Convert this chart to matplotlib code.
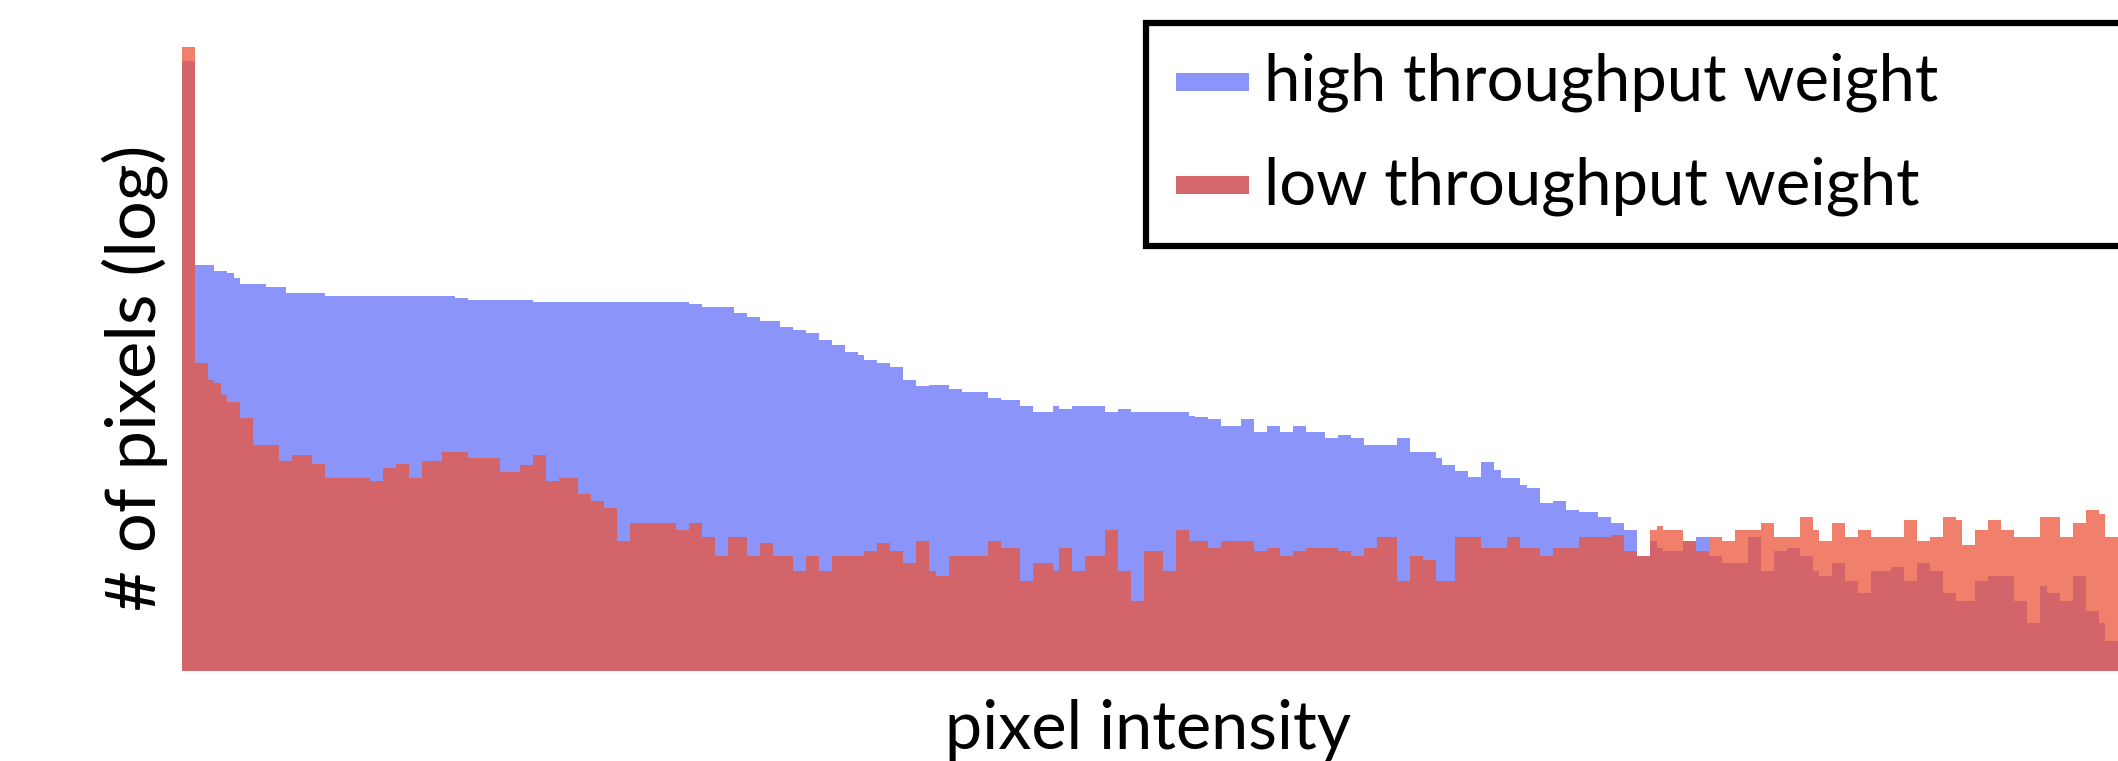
import numpy as np
import matplotlib
matplotlib.use('Agg')
import matplotlib.pyplot as plt
from matplotlib.patches import Patch, Rectangle
from matplotlib.legend_handler import HandlerPatch

# pixel counts per intensity bin (log axis)
high_weight = [
    1260000, 1260000, 11480, 11480, 11480, 10000, 10000, 9550, 8510, 7410,
    7410, 7410, 7410, 6920, 6920, 6920, 6030, 6030, 6030, 6030,
    6030, 6030, 5620, 5620, 5620, 5620, 5620, 5620, 5620, 5620,
    5620, 5620, 5620, 5620, 5620, 5620, 5620, 5620, 5620, 5620,
    5620, 5620, 5370, 5370, 5130, 5130, 5130, 5130, 5130, 5130,
    5130, 5130, 5130, 5130, 4900, 4900, 4900, 4900, 4900, 4900,
    4900, 4900, 4900, 4900, 4900, 4900, 4900, 4900, 4900, 4900,
    4900, 4900, 4900, 4900, 4900, 4900, 4900, 4900, 4680, 4680,
    4370, 4370, 4370, 4370, 4370, 3800, 3800, 3470, 3470, 3160,
    3160, 3160, 2750, 2750, 2570, 2570, 2400, 2400, 2040, 2040,
    1820, 1820, 1550, 1550, 1450, 1290, 1290, 1200, 1200, 1100,
    1100, 813, 813, 708, 708, 724, 724, 724, 661, 661,
    617, 617, 617, 617, 537, 537, 513, 513, 513, 447,
    447, 389, 389, 389, 447, 417, 417, 447, 447, 447,
    447, 447, 389, 389, 417, 417, 389, 389, 389, 389,
    389, 389, 389, 389, 389, 355, 347, 347, 331, 331,
    282, 282, 282, 331, 331, 245, 245, 282, 282, 245,
    245, 282, 282, 245, 245, 245, 214, 214, 229, 229,
    214, 214, 182, 182, 182, 182, 182, 214, 214, 155,
    155, 155, 155, 135, 115, 115, 100, 100, 87, 87,
    123, 123, 102, 85, 85, 85, 72, 68, 68, 48,
    48, 50, 50, 41, 41, 39, 39, 39, 35, 35,
    30, 30, 26, 26, 14, 14, 20, 17, 16, 16,
    16, 20, 20, 22, 22, 14, 14, 12, 12, 12,
    12, 22, 22, 10, 10, 16, 16, 17, 17, 14,
    14, 10, 9, 9, 12, 12, 8, 8, 6, 6,
    10, 10, 10, 11, 11, 8, 8, 12, 12, 10,
    10, 6, 6, 5, 5, 5, 8, 8, 9, 9,
    9, 9, 5, 5, 3, 3, 7, 6, 6, 5,
    5, 9, 9, 4, 4, 3, 2, 2,
]

low_weight = [
    1740000, 1740000, 1200, 1200, 813, 759, 575, 490, 490, 339,
    339, 182, 182, 182, 182, 126, 126, 145, 145, 145,
    117, 117, 85, 85, 85, 85, 85, 85, 85, 79,
    79, 107, 107, 117, 117, 85, 85, 126, 126, 126,
    155, 155, 155, 155, 135, 135, 135, 135, 135, 98,
    98, 98, 115, 115, 145, 145, 79, 79, 85, 85,
    85, 59, 59, 50, 50, 43, 43, 20, 20, 30,
    30, 30, 30, 30, 30, 30, 26, 26, 30, 30,
    22, 22, 14, 14, 22, 22, 22, 14, 14, 19,
    19, 14, 14, 14, 10, 10, 14, 14, 10, 10,
    14, 14, 14, 14, 14, 16, 16, 19, 19, 16,
    16, 12, 12, 20, 20, 10, 9, 9, 14, 14,
    14, 14, 14, 14, 20, 20, 17, 17, 17, 8,
    8, 12, 12, 12, 10, 17, 17, 10, 10, 14,
    14, 14, 26, 26, 10, 10, 5, 5, 16, 16,
    16, 10, 10, 26, 26, 20, 20, 20, 17, 17,
    20, 20, 20, 20, 20, 16, 16, 17, 17, 14,
    14, 16, 16, 17, 17, 17, 17, 17, 16, 16,
    14, 14, 17, 17, 22, 22, 22, 8, 8, 14,
    14, 13, 13, 8, 8, 8, 22, 22, 22, 22,
    17, 17, 17, 17, 22, 22, 17, 17, 17, 14,
    14, 17, 17, 17, 17, 22, 22, 22, 22, 22,
    23, 23, 16, 16, 14, 14, 26, 28, 26, 26,
    26, 20, 20, 16, 16, 22, 22, 20, 20, 26,
    26, 26, 26, 30, 30, 22, 22, 22, 22, 35,
    35, 26, 20, 20, 30, 30, 22, 22, 26, 26,
    22, 22, 22, 22, 22, 32, 32, 20, 20, 22,
    22, 35, 35, 32, 18, 18, 26, 26, 32, 32,
    26, 26, 22, 22, 22, 22, 35, 35, 35, 22,
    22, 30, 30, 41, 41, 37, 22, 22,
]

labels = ["high throughput weight", "low throughput weight"]

plt.rcParams['font.family'] = ['Lato', 'DejaVu Sans']

W, H = 2118, 761
fig = plt.figure(figsize=(W / 100, H / 100), dpi=100)
ax = fig.add_axes([182 / W, 90 / H, 1 - 182 / W, 631 / H])

# size the font so the first legend label is as wide as in the reference
renderer = fig.canvas.get_renderer()
probe = fig.text(0, 0, labels[0], fontsize=10)
fs = 10 * 675 / probe.get_window_extent(renderer).width
probe.set_fontsize(fs)
row_h = probe.get_window_extent(renderer).height
probe.remove()
fs_px = fs * 100 / 72

bins = np.arange(len(high_weight))
ax.bar(bins, high_weight, width=1.0, align='edge', color='#6472f7',
       alpha=0.75, linewidth=0)
ax.bar(bins, low_weight, width=1.0, align='edge', color='#ec553a',
       alpha=0.75, linewidth=0)

ax.set_yscale('log')
ax.set_ylim(1, 10 ** 6.31)
ax.set_xlim(0, len(high_weight))
ax.tick_params(axis='both', which='both', length=0,
               labelleft=False, labelbottom=False)
for s in ax.spines.values():
    s.set_visible(False)

fig.text(1148 / W, 1 - 730 / H, "pixel intensity", fontsize=fs * 1.02,
         ha='center', va='center')
fig.text(135 / W, 1 - 378 / H, "# of pixels (log)", fontsize=fs * 1.08,
         rotation=90, ha='center', va='center')


def legend_patch(legend, orig_handle, xdescent, ydescent, width, height, fontsize):
    return Rectangle((-xdescent, 10 / fs_px * fontsize), width,
                     18 / fs_px * fontsize)


handles = [Patch(facecolor='#8b95f9', edgecolor='none'),
           Patch(facecolor='#d5666b', edgecolor='none')]
leg = fig.legend(handles, labels, loc='upper left',
                 bbox_to_anchor=(1146 / W, 1 - 23 / H, 0.6, 0),
                 bbox_transform=fig.transFigure, mode='expand',
                 borderaxespad=0, fontsize=fs, fancybox=False,
                 framealpha=1, edgecolor='black',
                 borderpad=30 / fs_px, handlelength=73 / fs_px,
                 handletextpad=15 / fs_px,
                 labelspacing=(103 - row_h) / fs_px,
                 handler_map={Patch: HandlerPatch(patch_func=legend_patch)})
leg.get_frame().set_linewidth(4.5)

fig.savefig('out.png', dpi=100)
